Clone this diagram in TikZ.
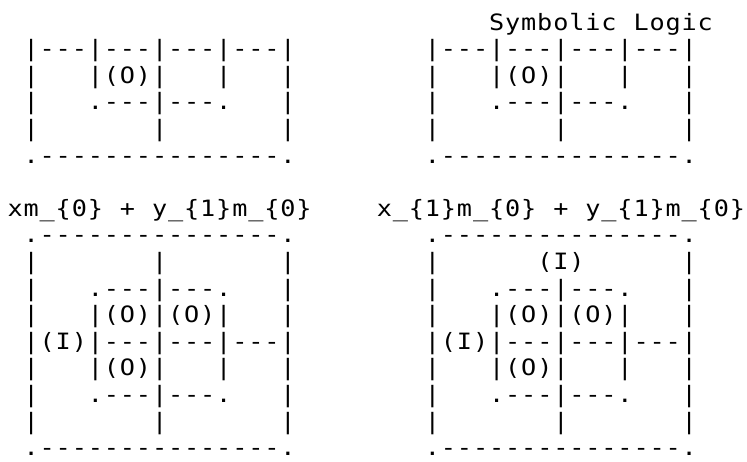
\documentclass[tikz,border=0pt]{standalone}
\usepackage{fontspec}
\setmonofont[FakeStretch=1.12]{DejaVu Sans Mono}
\newlength{\cellwd}
\setlength{\cellwd}{16.05pt}
% one character per fixed cell, ~ stands for a blank cell
\newcommand{\gridrow}[1]{\gridstep#1\relax}
\newcommand{\gridstep}[1]{\ifx#1\relax\else\makebox[\cellwd]{#1}\expandafter\gridstep\fi}
\tikzset{asciirow/.style={font=\ttfamily\fontsize{22.5}{26.6}\selectfont,anchor=base west,inner sep=0pt}}

\begin{document}
\begin{tikzpicture}[x=16.05pt,y=-26.6pt]
        \useasboundingbox (-6.97pt,30pt) rectangle (740.03pt,-431pt);
        \node[asciirow] (title) at (30,0) {\gridrow{Symbolic~Logic}};
        \foreach \rowtxt [count=\i from 0] in {|---|---|---|---|,|~~~|(O)|~~~|~~~|,|~~~.---|---.~~~|,|~~~~~~~|~~~~~~~|,.---------------.} {
          \node[asciirow] (tl\i) at (1,\i+1) {\expandafter\gridrow\expandafter{\rowtxt}};
          \node[asciirow] (tr\i) at (26,\i+1) {\expandafter\gridrow\expandafter{\rowtxt}};
        }
        \node[asciirow] (lblleft) at (0,7) {\gridrow{xm\_\{0\}~+~y\_\{1\}m\_\{0\}}};
        \node[asciirow] (lblright) at (23,7) {\gridrow{x\_\{1\}m\_\{0\}~+~y\_\{1\}m\_\{0\}}};
        \foreach \lefttxt/\righttxt [count=\i from 0] in {.---------------./.---------------.,
            |~~~~~~~|~~~~~~~|/|~~~~~~(I)~~~~~~|,
            |~~~.---|---.~~~|/|~~~.---|---.~~~|,
            |~~~|(O)|(O)|~~~|/|~~~|(O)|(O)|~~~|,
            |(I)|---|---|---|/|(I)|---|---|---|,
            |~~~|(O)|~~~|~~~|/|~~~|(O)|~~~|~~~|,
            |~~~.---|---.~~~|/|~~~.---|---.~~~|,
            |~~~~~~~|~~~~~~~|/|~~~~~~~|~~~~~~~|,
            .---------------./.---------------.} {
          \node[asciirow] (bl\i) at (1,\i+8) {\expandafter\gridrow\expandafter{\lefttxt}};
          \node[asciirow] (br\i) at (26,\i+8) {\expandafter\gridrow\expandafter{\righttxt}};
        }
      \end{tikzpicture}
\end{document}
